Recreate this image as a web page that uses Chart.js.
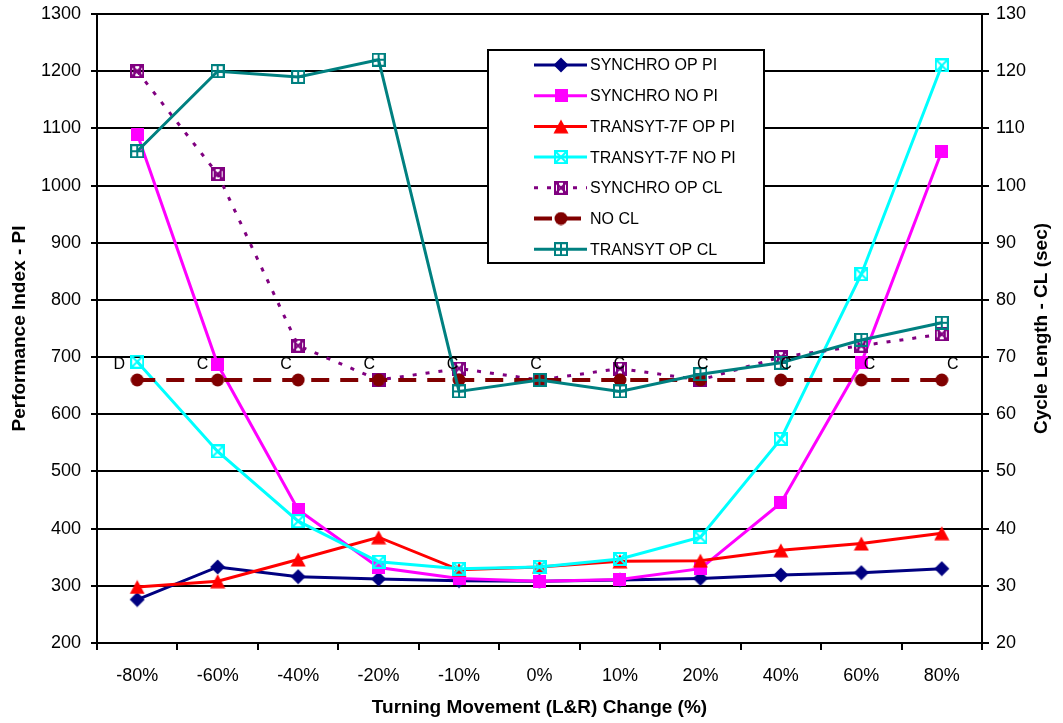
<!DOCTYPE html>
<html>
<head>
<meta charset="utf-8">
<script src="https://cdn.jsdelivr.net/npm/chart.js@4/dist/chart.umd.min.js"></script>
<style>
html,body{margin:0;padding:0;background:#fff;}
#c{display:block;}
</style>
</head>
<body>
<canvas id="c" width="1063" height="723"></canvas>
<script>
// ---- data ----
const categories = ['-80%','-60%','-40%','-20%','-10%','0%','10%','20%','40%','60%','80%'];
const synchroOpPI = [276, 333, 316, 312, 309, 308, 310, 313, 319, 323, 330];
const synchroNoPI = [1090, 687, 433, 332, 313, 308, 311, 330, 445, 690, 1060];
const transytOpPI = [298, 308, 346, 385, 328, 333, 343, 344, 362, 374, 392];
const transytNoPI = [692, 535, 413, 342, 330, 333, 347, 385, 557, 845, 1210];
const synchroOpCL = [120, 102, 72, 66, 68, 66, 68, 66, 70, 72, 74];
const noCL = [66, 66, 66, 66, 66, 66, 66, 66, 66, 66, 66];
const transytOpCL = [106, 120, 119, 122, 64, 66, 64, 67, 69, 73, 76];
const losLabels = ['D','C','C','C','C','C','C','C','C','C','C'];
const seriesNames = ['SYNCHRO OP PI','SYNCHRO NO PI','TRANSYT-7F OP PI','TRANSYT-7F NO PI','SYNCHRO OP CL','NO CL','TRANSYT OP CL'];

const FONT = "'Liberation Sans', Arial, sans-serif";
Chart.defaults.font.family = FONT;
Chart.defaults.color = '#000';

// ---- marker canvases ----
function mk(w, h, draw) {
  const c = document.createElement('canvas');
  c.width = w; c.height = h;
  draw(c.getContext('2d'));
  return c;
}
const mDiamond = mk(16, 16, g => { g.fillStyle = '#000080'; g.beginPath(); g.moveTo(8,0.5); g.lineTo(15.5,8); g.lineTo(8,15.5); g.lineTo(0.5,8); g.closePath(); g.fill(); });
const mSquare = mk(13, 13, g => { g.fillStyle = '#FF00FF'; g.fillRect(0,0,13,13); });
const mTri = mk(16, 15, g => { g.fillStyle = '#FF0000'; g.beginPath(); g.moveTo(8,0.5); g.lineTo(15.5,14.5); g.lineTo(0.5,14.5); g.closePath(); g.fill(); });
function boxX(color) {
  return mk(14, 14, g => { g.strokeStyle = color; g.lineWidth = 2; g.strokeRect(1,1,12,12); g.beginPath(); g.moveTo(2,2); g.lineTo(12,12); g.moveTo(12,2); g.lineTo(2,12); g.stroke(); });
}
const mCyan = boxX('#00FFFF');
const mPurple = mk(14, 14, g => { g.strokeStyle = '#800080'; g.lineWidth = 2; g.strokeRect(1,1,12,12); g.beginPath(); g.moveTo(2,2); g.lineTo(12,12); g.moveTo(12,2); g.lineTo(2,12); g.moveTo(4,2); g.lineTo(4,12); g.moveTo(10,2); g.lineTo(10,12); g.stroke(); });
const mCircle = mk(14, 14, g => { g.fillStyle = '#800000'; g.beginPath(); g.arc(7,7,6.5,0,Math.PI*2); g.fill(); });
const mTeal = mk(14, 14, g => { g.strokeStyle = '#008080'; g.lineWidth = 2; g.strokeRect(1,1,12,12); g.beginPath(); g.moveTo(7,1); g.lineTo(7,13); g.moveTo(1,7); g.lineTo(13,7); g.stroke(); });

function ds(i, data, color, marker, axis, dash, width) {
  return {
    label: seriesNames[i], data: data, yAxisID: axis,
    borderColor: color, backgroundColor: color, borderWidth: width || 3,
    borderDash: dash || [], pointStyle: marker, pointRadius: 7, pointHoverRadius: 7,
    tension: 0, fill: false, order: 10 - i
  };
}

const datasets = [
  ds(0, synchroOpPI, '#000080', mDiamond, 'y'),
  ds(1, synchroNoPI, '#FF00FF', mSquare, 'y'),
  ds(2, transytOpPI, '#FF0000', mTri, 'y'),
  ds(3, transytNoPI, '#00FFFF', mCyan, 'y'),
  ds(4, synchroOpCL, '#800080', mPurple, 'y1', [4, 9], 3),
  ds(5, noCL, '#800000', mCircle, 'y1', [18, 11], 4),
  ds(6, transytOpCL, '#008080', mTeal, 'y1')
];

const extras = {
  id: 'extras',
  afterDraw(chart) {
    const g = chart.ctx;
    const ca = chart.chartArea;
    const xs = chart.scales.x, y1 = chart.scales.y1;
    // LOS labels
    g.save();
    g.font = '16px ' + FONT;
    g.fillStyle = '#000';
    g.textAlign = 'center';
    g.textBaseline = 'middle';
    losLabels.forEach((t, i) => {
      const dx = -18 + i * 2.9;
      g.fillText(t, xs.getPixelForValue(i) + dx, y1.getPixelForValue(noCL[i]) - 15);
    });
    g.restore();

    // right axis title (reads bottom to top)
    g.save();
    g.font = 'bold 19px ' + FONT;
    g.fillStyle = '#000';
    g.textAlign = 'center';
    g.textBaseline = 'middle';
    g.translate(1042, (ca.top + ca.bottom) / 2);
    g.rotate(-Math.PI / 2);
    g.fillText('Cycle Length - CL (sec)', 0, 0);
    g.restore();

    // legend
    const lx = ca.left + 391, ly = ca.top + 36, lw = 276, lh = 213;
    g.save();
    g.fillStyle = '#fff';
    g.fillRect(lx, ly, lw, lh);
    g.strokeStyle = '#000';
    g.lineWidth = 2;
    g.strokeRect(lx, ly, lw, lh);
    g.font = '16px ' + FONT;
    g.textBaseline = 'middle';
    g.textAlign = 'left';
    chart.data.datasets.forEach((d, i) => {
      const ry = ly + 15 + i * 30.7;
      g.save();
      g.strokeStyle = d.borderColor;
      g.lineWidth = d.borderWidth;
      g.setLineDash(d.borderDash);
      g.beginPath();
      g.moveTo(lx + 46, ry);
      g.lineTo(lx + 99, ry);
      g.stroke();
      g.restore();
      const m = d.pointStyle;
      g.drawImage(m, lx + 73 - m.width / 2, ry - m.height / 2);
      g.fillStyle = '#000';
      g.fillText(d.label, lx + 102, ry + 1);
    });
    g.restore();
  }
};

const plainTick = v => String(v);
const fixV = w => s => { s.width = w; s.paddingTop = 0; s.paddingBottom = 0; };

new Chart(document.getElementById('c'), {
  type: 'line',
  data: { labels: categories, datasets: datasets },
  options: {
    responsive: false,
    animation: false,
    devicePixelRatio: 1,
    events: [],
    layout: { padding: { top: 14, left: 0, right: 0, bottom: 0 } },
    plugins: { legend: { display: false }, tooltip: { enabled: false } },
    scales: {
      x: {
        offset: true,
        grid: { offset: true, drawOnChartArea: false, color: '#000', lineWidth: 2, tickLength: 7, tickWidth: 2 },
        border: { color: '#000', width: 2 },
        ticks: { color: '#000', font: { size: 18 }, padding: 15, maxRotation: 0, autoSkip: false },
        title: { display: true, text: 'Turning Movement (L&R) Change (%)', color: '#000', font: { size: 19, weight: 'bold' }, padding: { top: 0, bottom: 4 } },
        afterFit: s => { s.height = 80; s.paddingLeft = 0; s.paddingRight = 0; }
      },
      y: {
        position: 'left', min: 200, max: 1300,
        ticks: { stepSize: 100, color: '#000', font: { size: 18 }, padding: 10, callback: plainTick },
        grid: { color: '#000', lineWidth: 2, tickLength: 6 },
        border: { color: '#000', width: 2 },
        title: { display: true, text: 'Performance Index - PI', color: '#000', font: { size: 19, weight: 'bold' }, padding: { top: 8, bottom: 0 } },
        afterFit: fixV(97)
      },
      y1: {
        position: 'right', min: 20, max: 130,
        ticks: { stepSize: 10, color: '#000', font: { size: 18 }, padding: 7, callback: plainTick },
        grid: { drawOnChartArea: false, color: '#000', lineWidth: 2, tickLength: 7 },
        border: { color: '#000', width: 2 },
        afterFit: fixV(81)
      }
    }
  },
  plugins: [extras]
});
</script>
</body>
</html>
